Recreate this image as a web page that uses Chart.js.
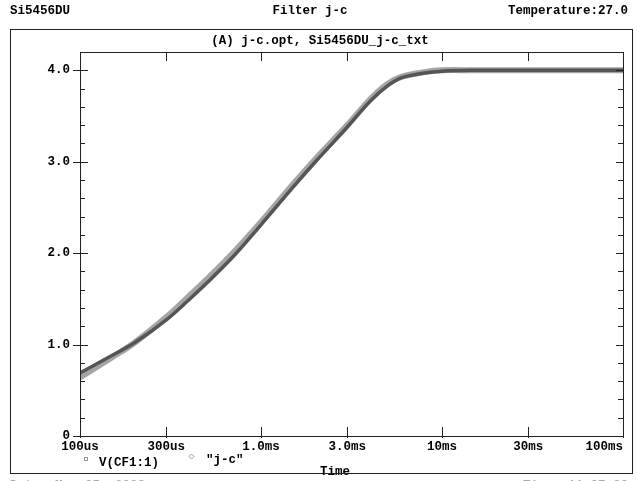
<!DOCTYPE html>
<html>
<head>
<meta charset="utf-8">
<script src="https://cdn.jsdelivr.net/npm/chart.js@4.4.0/dist/chart.umd.min.js"></script>
<style>
  html, body { margin: 0; padding: 0; background: #fff; }
  #wrap { width: 637px; height: 481px; }
</style>
</head>
<body>
<div id="wrap"><canvas id="myChart" width="637" height="481"></canvas></div>
<script>
// time points (seconds) and the two traces
var xTimes = [1e-4, 1.5e-4, 2e-4, 3e-4, 4e-4, 5e-4, 7e-4, 1e-3, 1.5e-3, 2e-3, 3e-3, 4e-3, 5e-3, 6e-3, 8e-3, 1e-2, 1.5e-2, 2e-2, 3e-2, 5e-2, 1e-1];
var simValues  = [0.69, 0.88, 1.02, 1.27, 1.49, 1.67, 1.96, 2.31, 2.72, 3.00, 3.38, 3.66, 3.83, 3.92, 3.97, 3.99, 4.00, 4.00, 4.00, 4.00, 4.00];
var measValues = [0.64, 0.86, 1.02, 1.30, 1.53, 1.71, 2.00, 2.34, 2.75, 3.03, 3.40, 3.68, 3.85, 3.93, 3.98, 4.00, 4.00, 4.00, 4.00, 4.00, 4.00];

var xTickValues = [1e-4, 3e-4, 1e-3, 3e-3, 1e-2, 3e-2, 1e-1];
var xTickLabels = ["100us", "300us", "1.0ms", "3.0ms", "10ms", "30ms", "100ms"];
var yTickLabels = {0: "0", 1: "1.0", 2: "2.0", 3: "3.0", 4: "4.0"};

var FONT = "'Liberation Mono', 'DejaVu Sans Mono', monospace";

function pts(vals) {
    var out = [];
    for (var i = 0; i < xTimes.length; i++) out.push({x: xTimes[i], y: vals[i]});
    return out;
}

// frame, ticks and the probe-style texts round the plot
var decor = {
    id: "decor",
    afterDraw: function(chart) {
        var c = chart.ctx;
        var a = chart.chartArea;
        var xs = chart.scales.x, ys = chart.scales.y;
        c.save();
        c.strokeStyle = "#222";
        c.lineWidth = 1;
        // outer frame
        c.strokeRect(10.5, 29.5, 622, 444);
        // plot box
        c.strokeRect(Math.round(a.left) + 0.5, Math.round(a.top) + 0.5, Math.round(a.right - a.left), Math.round(a.bottom - a.top));
        c.beginPath();
        ys.ticks.forEach(function(t) {
            var y = Math.round(ys.getPixelForValue(t.value)) + 0.5;
            var major = Math.abs(t.value - Math.round(t.value)) < 1e-6;
            if (major) {
                c.moveTo(a.left - 7, y); c.lineTo(a.left + 8, y);
                c.moveTo(a.right - 7, y); c.lineTo(a.right, y);
            } else {
                c.moveTo(a.left, y); c.lineTo(a.left + 5, y);
                c.moveTo(a.right - 5, y); c.lineTo(a.right, y);
            }
        });
        xs.ticks.forEach(function(t) {
            var x = Math.round(xs.getPixelForValue(t.value)) + 0.5;
            c.moveTo(x, a.bottom + 2); c.lineTo(x, a.bottom - 9);
            c.moveTo(x, a.top); c.lineTo(x, a.top + 9);
        });
        c.stroke();

        c.fillStyle = "#000";
        c.font = "bold 12.5px " + FONT;
        c.textBaseline = "middle";
        c.textAlign = "left";
        c.fillText("Si5456DU", 10, 11);
        c.textAlign = "center";
        c.fillText("Filter j-c", 310, 11);
        c.textAlign = "right";
        c.fillText("Temperature:27.0", 628, 11);
        c.textAlign = "center";
        c.fillText("(A) j-c.opt, Si5456DU_j-c_txt", 320, 41);

        // legend
        c.textAlign = "left";
        c.fillText("V(CF1:1)", 99, 463);
        c.fillText("\"j-c\"", 206, 460);
        c.strokeStyle = "#999";
        c.strokeRect(84.5, 457.5, 3, 3);
        c.beginPath();
        c.moveTo(191.5, 454); c.lineTo(194, 456.5); c.lineTo(191.5, 459); c.lineTo(189, 456.5); c.closePath();
        c.stroke();
        c.fillStyle = "#000";
        c.textAlign = "center";
        c.fillText("Time", 335, 472);
        c.strokeStyle = "#222";
        c.beginPath(); c.moveTo(10, 473.5); c.lineTo(633, 473.5); c.stroke();

        // footer, mostly cut off by the window edge
        c.fillStyle = "#aaa";
        c.font = "bold 12.5px " + FONT;
        c.textAlign = "left";
        c.fillText("Date: Mar 25, 2023", 10, 486);
        c.textAlign = "right";
        c.fillText("Time: 11:37:33", 628, 486);
        c.restore();
    }
};

new Chart("myChart", {
    type: "line",
    data: {
        datasets: [{
            label: "V(CF1:1)",
            data: pts(simValues),
            borderColor: "rgb(85,85,85)",
            borderWidth: 3.5,
            pointRadius: 0,
            tension: 0.35,
            fill: false
        }, {
            label: "\"j-c\"",
            data: pts(measValues),
            borderColor: "rgb(165,165,165)",
            borderWidth: 6,
            pointRadius: 0,
            tension: 0.35,
            fill: false
        }]
    },
    options: {
        responsive: false,
        animation: false,
        layout: { padding: { left: 0, top: 52, right: 14, bottom: 0 } },
        plugins: { legend: { display: false }, tooltip: { enabled: false } },
        scales: {
            x: {
                type: "logarithmic",
                min: 1e-4,
                max: 1e-1,
                grid: { display: false, drawTicks: false },
                border: { display: false },
                afterBuildTicks: function(scale) {
                    scale.ticks = xTickValues.map(function(v) { return {value: v}; });
                },
                afterFit: function(scale) {
                    scale.height = 45;
                    scale.paddingLeft = 0;
                    scale.paddingRight = 0;
                },
                ticks: {
                    autoSkip: false,
                    maxRotation: 0,
                    padding: 3,
                    color: "#000",
                    font: { family: FONT, size: 12.5, weight: "bold" },
                    callback: function(v) {
                        var i = xTickValues.indexOf(v);
                        if (i < 0) return "";
                        // last label sits left of its tick, as in the original
                        return i == xTickLabels.length - 1 ? xTickLabels[i] + "     " : xTickLabels[i];
                    }
                }
            },
            y: {
                min: 0,
                max: 4.2,
                grid: { display: false, drawTicks: false },
                border: { display: false },
                afterFit: function(scale) {
                    scale.width = 80;
                    scale.paddingTop = 0;
                    scale.paddingBottom = 0;
                },
                ticks: {
                    stepSize: 0.2,
                    autoSkip: false,
                    padding: 10,
                    color: "#000",
                    font: { family: FONT, size: 12.5, weight: "bold" },
                    callback: function(v) {
                        var r = Math.round(v);
                        return Math.abs(v - r) < 1e-6 && yTickLabels[r] !== undefined ? yTickLabels[r] : "";
                    }
                }
            }
        }
    },
    plugins: [decor]
});
</script>
</body>
</html>
